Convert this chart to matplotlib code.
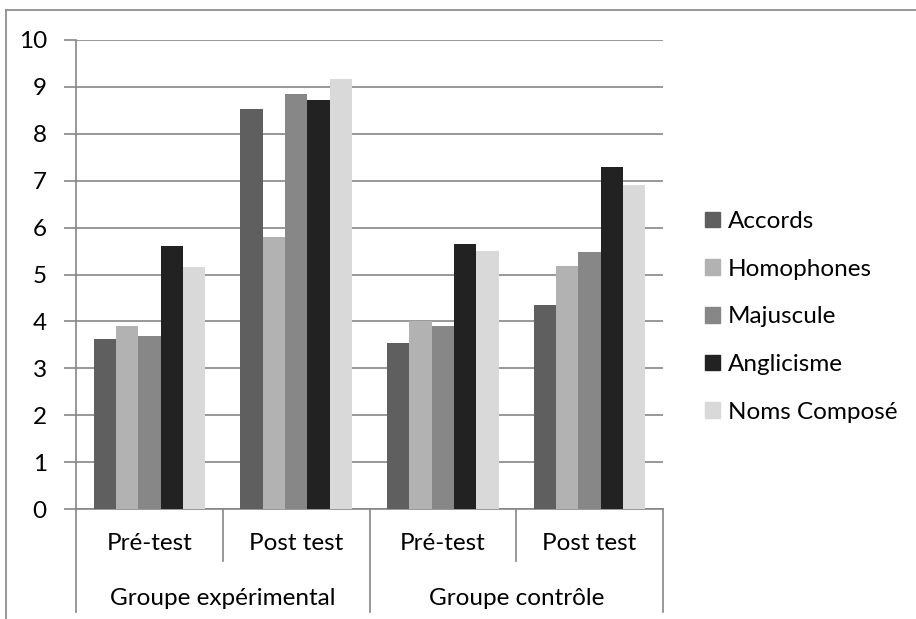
import numpy as np
import matplotlib.pyplot as plt
from matplotlib.patches import Patch
from matplotlib.lines import Line2D

plt.rcParams['font.family'] = ['Lato', 'DejaVu Sans']

# data
groups = ['Groupe expérimental', 'Groupe contrôle']
phases = ['Pré-test', 'Post test', 'Pré-test', 'Post test']
series = ['Accords', 'Homophones', 'Majuscule', 'Anglicisme', 'Noms Composé']
accords = [3.63, 8.53, 3.54, 4.36]
homophones = [3.91, 5.79, 4.01, 5.18]
majuscule = [3.68, 8.85, 3.91, 5.48]
anglicisme = [5.60, 8.72, 5.64, 7.30]
noms = [5.15, 9.16, 5.51, 6.91]
values = [accords, homophones, majuscule, anglicisme, noms]
colors = ['#5f5f5f', '#b2b2b2', '#878787', '#222222', '#d9d9d9']

grid_c = '#868686'
fs = 17.5

fig = plt.figure(figsize=(9.16, 6.19), dpi=100)
ax = fig.add_axes([76/916, 110/619, 587/916, 469/619])

x = np.arange(len(phases)) + 0.5
w = 0.152
for i, (vals, c) in enumerate(zip(values, colors)):
    ax.bar(x + (i - 2) * w, vals, w, color=c, label=series[i], zorder=3)

ax.set_xlim(0, len(phases))
ax.set_ylim(0, 10)
ax.set_yticks(range(0, 11))
ax.yaxis.grid(True, color=grid_c, lw=1.2, zorder=0)
ax.tick_params(axis='y', length=9, width=1.2, color=grid_c, labelsize=fs, pad=12)
ax.set_xticks([])
for s in ['top', 'right']:
    ax.spines[s].set_visible(False)
for s in ['left', 'bottom']:
    ax.spines[s].set_color(grid_c)
    ax.spines[s].set_linewidth(1.2)

# multi-level category axis
tr = ax.get_xaxis_transform()
for k in range(len(phases) + 1):
    bottom = -0.22 if k % 2 == 0 else -0.111
    ax.add_line(Line2D([k, k], [0, bottom], transform=tr, color=grid_c,
                       lw=1.2, clip_on=False))
for k, p in enumerate(phases):
    ax.text(k + 0.5, -0.074, p, transform=tr, ha='center', va='center', fontsize=fs)
for g, name in enumerate(groups):
    ax.text(2 * g + 1, -0.19, name, transform=tr, ha='center', va='center', fontsize=fs)

# outer chart border (top and left)
fig.add_artist(Line2D([6/916, 1], [1 - 10/619, 1 - 10/619], color=grid_c, lw=1.2))
fig.add_artist(Line2D([6/916, 6/916], [0, 1 - 10/619], color=grid_c, lw=1.2))

handles = [Patch(color=c, label=s) for c, s in zip(colors, series)]
fig.legend(handles=handles, loc='center left', bbox_to_anchor=(0.746, 0.488),
           frameon=False, fontsize=fs, handlelength=0.62, handleheight=0.62,
           handletextpad=0.3, labelspacing=1.1)

fig.savefig('out.png', dpi=100)
